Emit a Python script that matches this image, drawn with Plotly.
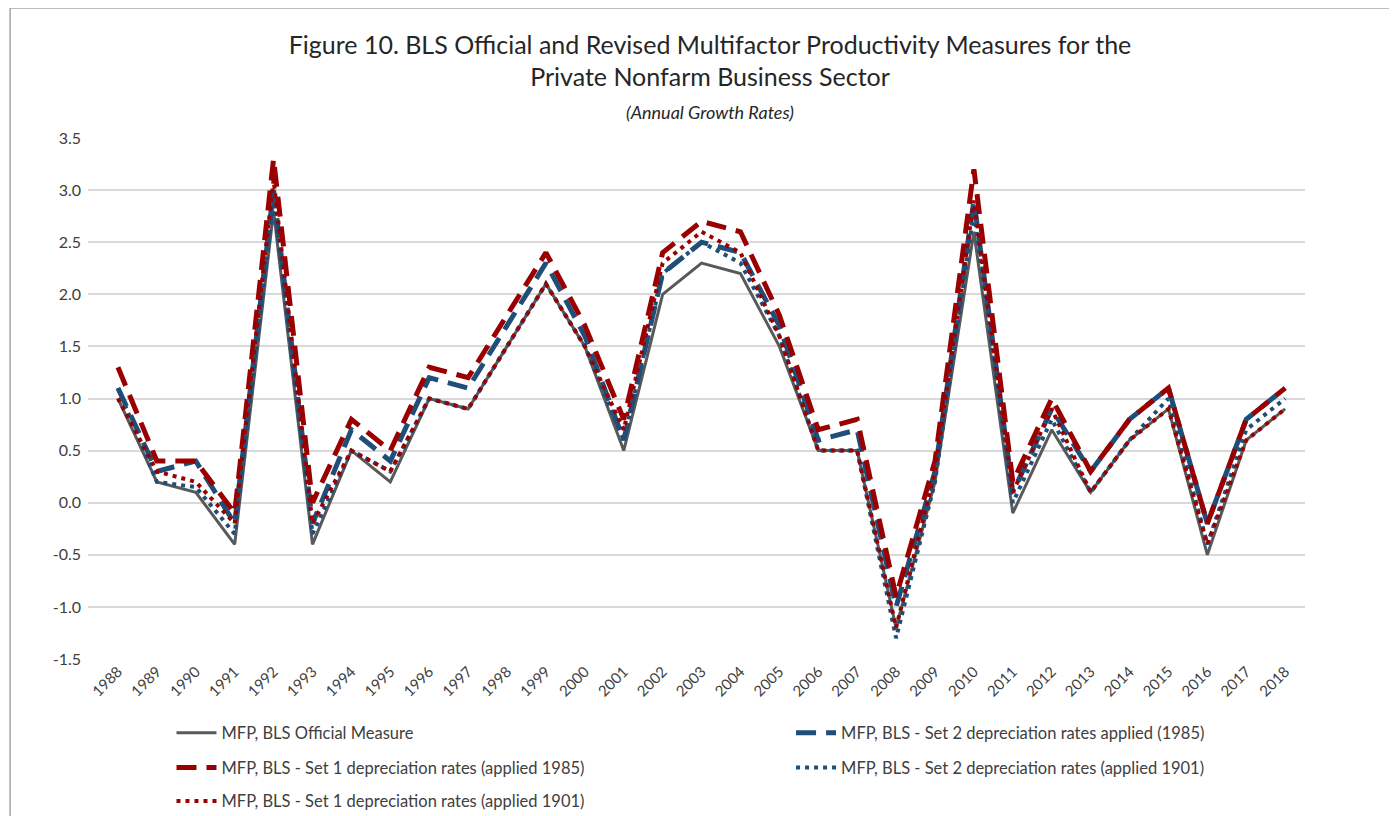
import plotly.graph_objects as go

years = list(range(1988, 2019))

official = [1.0, 0.2, 0.1, -0.4, 2.8, -0.4, 0.5, 0.2, 1.0, 0.9, 1.5, 2.1, 1.5, 0.5, 2.0, 2.3,
            2.2, 1.5, 0.5, 0.5, -1.2, 0.2, 2.6, -0.1, 0.7, 0.1, 0.6, 0.9, -0.5, 0.6, 0.9]
set2_1985 = [1.1, 0.3, 0.4, -0.2, 3.0, -0.2, 0.7, 0.4, 1.2, 1.1, 1.7, 2.3, 1.6, 0.6, 2.2, 2.5,
             2.4, 1.7, 0.6, 0.7, -1.0, 0.3, 2.9, 0.1, 0.9, 0.3, 0.8, 1.1, -0.2, 0.8, 1.1]
set1_1985 = [1.3, 0.4, 0.4, -0.1, 3.3, 0.0, 0.8, 0.5, 1.3, 1.2, 1.8, 2.4, 1.7, 0.8, 2.4, 2.7,
             2.6, 1.8, 0.7, 0.8, -0.9, 0.4, 3.2, 0.2, 1.0, 0.3, 0.8, 1.1, -0.2, 0.8, 1.1]
set2_1901 = [1.1, 0.2, 0.15, -0.3, 2.9, -0.3, 0.5, 0.3, 1.0, 0.9, 1.5, 2.1, 1.5, 0.6, 2.2, 2.5,
             2.3, 1.6, 0.5, 0.5, -1.3, 0.2, 2.8, 0.0, 0.8, 0.1, 0.6, 1.0, -0.4, 0.7, 1.0]
set1_1901 = [1.0, 0.3, 0.2, -0.2, 3.1, -0.2, 0.5, 0.3, 1.0, 0.9, 1.5, 2.1, 1.5, 0.7, 2.3, 2.6,
             2.4, 1.6, 0.5, 0.5, -1.2, 0.3, 2.9, 0.1, 0.9, 0.1, 0.6, 0.9, -0.4, 0.6, 0.9]

y_ticks = [-1.5, -1.0, -0.5, 0.0, 0.5, 1.0, 1.5, 2.0, 2.5, 3.0, 3.5]
y_labels = ['-1.5', '-1.0', '-0.5', '0.0', '0.5', '1.0', '1.5', '2.0', '2.5', '3.0', '3.5']

gray = '#595959'
red = '#9b0000'
blue = '#1f4e79'
font = 'Lato, Open Sans, sans-serif'

# name, values, colour, dash, width, legend id, legend x, legend y (paper)
series = [
    ('MFP, BLS Official Measure', official, gray, 'solid', 3, 'legend', 0.0686, -0.142),
    ('MFP, BLS - Set 2 depreciation rates applied (1985)', set2_1985, blue, '20px,10px', 5, 'legend2', 0.5777, -0.142),
    ('MFP, BLS - Set 1 depreciation rates (applied 1985)', set1_1985, red, '20px,10px', 5, 'legend3', 0.0686, -0.209),
    ('MFP, BLS - Set 2 depreciation rates (applied 1901)', set2_1901, blue, '4px,5px', 4, 'legend4', 0.5777, -0.209),
    ('MFP, BLS - Set 1 depreciation rates (applied 1901)', set1_1901, red, '4px,5px', 4, 'legend5', 0.0686, -0.273),
]

fig = go.Figure()
legends = {}
for name, vals, color, dash, width, leg, lx, ly in series:
    fig.add_trace(go.Scatter(
        x=years, y=vals, name=name, mode='lines', showlegend=True,
        line=dict(color=color, dash=dash, width=width),
        legend=leg))
    legends[leg] = dict(x=lx, y=ly, xanchor='left', yanchor='middle',
                        bgcolor='rgba(0,0,0,0)', itemwidth=40,
                        font=dict(family=font, size=16.5, color='#404040'))

fig.update_layout(
    width=1397, height=816, showlegend=True,
    paper_bgcolor='white', plot_bgcolor='white',
    margin=dict(l=80, r=100, t=130, b=165, autoexpand=False),
    title=dict(
        text='Figure 10. BLS Official and Revised Multifactor Productivity Measures for the<br>'
             'Private Nonfarm Business Sector<br>'
             '<span style="font-size:18px"><i>(Annual Growth Rates)</i></span>',
        x=0.5025, xanchor='center', y=0.944, yanchor='top',
        font=dict(family=font, size=25, color='#262626')),
    **legends,
)

fig.update_xaxes(
    range=[1987.23, 2018.51], tickmode='array', tickvals=years,
    ticktext=[str(y) for y in years], tickangle=-45, showgrid=False,
    zeroline=False, showline=False, ticks='',
    tickfont=dict(family=font, size=15, color='#404040'))

fig.update_yaxes(
    range=[-1.5, 3.5], tickmode='array', tickvals=y_ticks, ticktext=y_labels,
    showgrid=True, gridcolor='#d9d9d9', gridwidth=1.5, zeroline=False,
    showline=False, ticks='', ticklabelstandoff=6,
    tickfont=dict(family=font, size=16, color='#404040'))

# outer chart border
fig.add_shape(type='rect', xref='paper', yref='paper',
              x0=-0.064, x1=1.07, y0=-0.33, y1=1.2495,
              line=dict(color='#a6a6a6', width=1.5), fillcolor='rgba(0,0,0,0)')

fig.write_html('out.html')
